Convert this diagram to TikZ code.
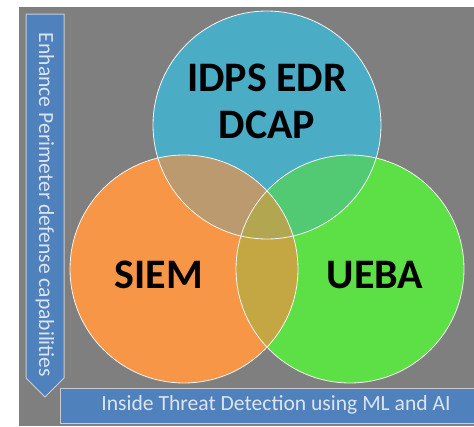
\documentclass[tikz,border=0pt]{standalone}
\usepackage{fontspec}
\setmainfont{Carlito}
\definecolor{bggray}{RGB}{127,127,127}
\definecolor{cblue}{RGB}{75,172,198}
\definecolor{corange}{RGB}{247,150,70}
\definecolor{cgreen}{RGB}{92,224,70}
\definecolor{cbo}{RGB}{186,154,110}
\definecolor{cbg}{RGB}{82,202,115}
\definecolor{cog}{RGB}{196,167,66}
\definecolor{call}{RGB}{179,166,80}
\definecolor{barblue}{RGB}{79,129,189}
\definecolor{bartext}{RGB}{220,228,240}
\definecolor{barline}{RGB}{200,205,212}
\tikzset{
  ring/.style={draw=white!92!gray, line width=0.8pt},
  bar/.style={fill=barblue, draw=barline, line width=1pt},
  bigtext/.style={font=\fontsize{42}{47}\selectfont\bfseries, text=black, inner sep=0pt, anchor=base},
  bartxt/.style={font=\fontsize{21.6}{26}\selectfont, text=bartext, inner sep=0pt}
}
\begin{document}
\begin{tikzpicture}[x=1pt,y=-1pt]
\useasboundingbox (0,0) rectangle (474,426);
\fill[white] (0,0) rectangle (474,426);
\fill[bggray] (19,7) rectangle (474,426);
% circles
\coordinate (cb) at (267,125);
\coordinate (co) at (184,269);
\coordinate (cg) at (350,269);
\def\R{114}
\fill[cblue] (cb) circle (\R);
\fill[corange] (co) circle (\R);
\fill[cgreen] (cg) circle (\R);
\begin{scope}
  \clip (cb) circle (\R);
  \fill[cbo] (co) circle (\R);
  \fill[cbg] (cg) circle (\R);
\end{scope}
\begin{scope}
  \clip (co) circle (\R);
  \fill[cog] (cg) circle (\R);
  \clip (cg) circle (\R);
  \fill[call] (cb) circle (\R);
\end{scope}
\draw[ring] (cb) circle (\R);
\draw[ring] (co) circle (\R);
\draw[ring] (cg) circle (\R);
% labels
\node[bigtext] (l1) at (267,91) {IDPS EDR};
\node[bigtext] (l2) at (267,138) {DCAP};
\node[bigtext] (siem) at (159,288) {SIEM};
\node[bigtext] (ueba) at (375,288) {UEBA};
% left arrow
\draw[bar] (26,14) -- (64,14) -- (64,378) -- (45,397) -- (26,378) -- cycle;
\node[bartxt, rotate=-90] (perim) at (45,205) {Enhance Perimeter defense capabilities};
% bottom bar
\draw[bar] (60,388) rectangle (476,423);
\node[bartxt] (inside) at (276,405) {Inside Threat Detection using ML and AI};
\end{tikzpicture}
\end{document}
